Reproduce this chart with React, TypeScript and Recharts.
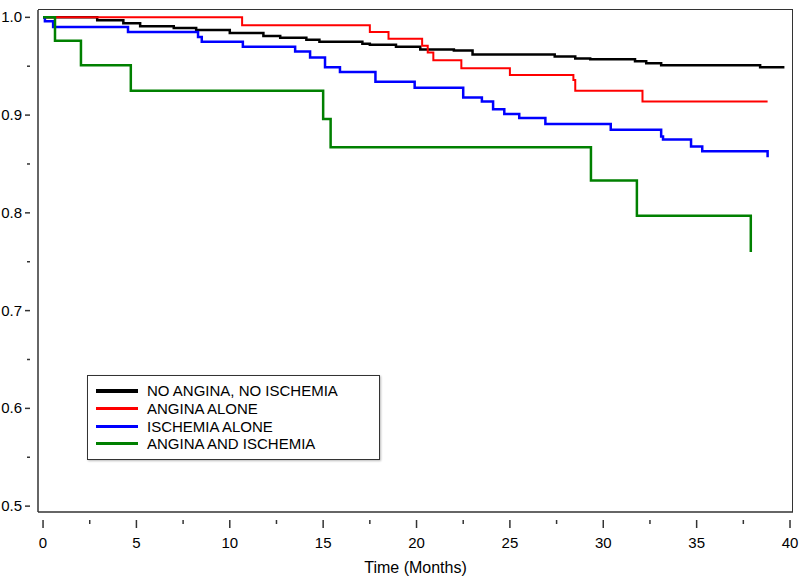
import React from 'react';
import { LineChart, Line, XAxis, YAxis } from 'recharts';

// Kaplan-Meier style step curves (time in months, survival proportion)
const noIschemiaTime = [0, 2.9, 4.3, 5.2, 7.0, 8.2, 10.0, 11.8, 12.7, 14.1, 14.8, 17.1, 17.5, 18.9, 20.2, 22.0, 23.0, 27.4, 28.5, 29.3, 31.7, 32.3, 33.1, 38.4, 39.7];
const noIschemiaSurv = [1.0, 0.997, 0.994, 0.991, 0.989, 0.987, 0.984, 0.981, 0.979, 0.977, 0.975, 0.973, 0.972, 0.970, 0.967, 0.966, 0.962, 0.960, 0.958, 0.957, 0.955, 0.953, 0.951, 0.949, 0.949];

const anginaTime = [0, 10.66, 17.5, 18.5, 20.3, 20.6, 20.9, 22.4, 25.0, 28.4, 28.5, 32.1, 38.8];
const anginaSurv = [1.0, 0.992, 0.985, 0.978, 0.971, 0.964, 0.956, 0.948, 0.941, 0.936, 0.925, 0.914, 0.914];

const ischemiaTime = [0, 0.1, 0.54, 4.55, 8.3, 8.5, 10.7, 13.5, 14.3, 15.1, 15.9, 17.8, 19.9, 22.5, 23.5, 24.1, 24.7, 25.5, 26.9, 30.4, 33.1, 33.2, 34.7, 35.3, 38.8, 38.8];
const ischemiaSurv = [1.0, 0.996, 0.990, 0.985, 0.980, 0.975, 0.970, 0.965, 0.959, 0.949, 0.944, 0.934, 0.928, 0.918, 0.914, 0.906, 0.901, 0.897, 0.891, 0.885, 0.878, 0.875, 0.868, 0.863, 0.863, 0.857];

const bothTime = [0, 0.64, 2.03, 4.7, 15.0, 15.4, 29.34, 31.8, 37.9, 37.9];
const bothSurv = [1.0, 0.976, 0.951, 0.925, 0.896, 0.867, 0.833, 0.797, 0.797, 0.760];

const xTicks = [0, 2.5, 5, 7.5, 10, 12.5, 15, 17.5, 20, 22.5, 25, 27.5, 30, 32.5, 35, 37.5, 40];
const yTicks = [0.5, 0.55, 0.6, 0.65, 0.7, 0.75, 0.8, 0.85, 0.9, 0.95, 1.0];

const seriesNames = ['NO ANGINA, NO ISCHEMIA', 'ANGINA ALONE', 'ISCHEMIA ALONE', 'ANGINA AND ISCHEMIA'];
const seriesColors = ['#000000', '#ff0000', '#0000ff', '#008000'];

const toPoints = (t: number[], s: number[]) => t.map((time, i) => ({ time, surv: s[i] }));

const series = [
  toPoints(noIschemiaTime, noIschemiaSurv),
  toPoints(anginaTime, anginaSurv),
  toPoints(ischemiaTime, ischemiaSurv),
  toPoints(bothTime, bothSurv),
];
const strokeWidths = [2.5, 2, 2.5, 2.5];

const FONT = '"Liberation Sans", Arial, sans-serif';
const AXIS = '#333333';

const XTick = (props: any) => {
  const { x, y, payload } = props;
  const major = payload.value % 5 === 0;
  return (
    <g>
      <line x1={x} y1={y} x2={x} y2={y + (major ? 8 : 4)} stroke={AXIS} strokeWidth={1.5} />
      {major && (
        <text x={x} y={y + 28} textAnchor="middle" fontSize={15} fontFamily={FONT} fill="#000">
          {payload.value}
        </text>
      )}
    </g>
  );
};

const YTick = (props: any) => {
  const { x, y, payload } = props;
  const major = Math.abs(payload.value * 10 - Math.round(payload.value * 10)) < 1e-6;
  return (
    <g>
      <line x1={x} y1={y} x2={x - (major ? 5 : 3)} y2={y} stroke={AXIS} strokeWidth={1.5} />
      {major && (
        <text x={x - 8} y={y + 5} textAnchor="end" fontSize={15} fontFamily={FONT} fill="#000">
          {payload.value.toFixed(1)}
        </text>
      )}
    </g>
  );
};

const LegendBox = () => (
  <div
    style={{
      position: 'absolute',
      left: 87,
      top: 375,
      width: 275,
      padding: '6px 8px',
      border: '1.5px solid #333',
      boxShadow: '1px 1px 2px #bbb',
      fontFamily: FONT,
      fontSize: 15,
      background: '#fff',
    }}
  >
    {seriesNames.map((name, i) => (
      <div key={name} style={{ display: 'flex', alignItems: 'center', height: 17.7 }}>
        <div style={{ width: 42, height: i === 0 ? 4 : 3, background: seriesColors[i], marginRight: 9 }} />
        <span>{name}</span>
      </div>
    ))}
  </div>
);

export default function App() {
  return (
    <div style={{ position: 'absolute', left: 0, top: 0, width: 800, height: 579, background: '#fff' }}>
      <LineChart width={800} height={579} margin={{ top: 10, right: 7, bottom: 0, left: 0 }}>
        <XAxis
          dataKey="time"
          type="number"
          domain={[-0.27, 40.16]}
          ticks={xTicks}
          tick={<XTick />}
          tickLine={false}
          axisLine={{ stroke: AXIS, strokeWidth: 1.5 }}
          height={67}
          allowDuplicatedCategory={false}
          label={{ value: 'Time (Months)', position: 'insideBottom', offset: 6, style: { fontSize: 16, fontFamily: FONT, fill: '#000' } }}
        />
        <YAxis
          type="number"
          domain={[0.494, 1.0075]}
          ticks={yTicks}
          tick={<YTick />}
          tickLine={false}
          axisLine={{ stroke: AXIS, strokeWidth: 1.5 }}
          width={38}
          allowDataOverflow
        />
        {series.map((pts, i) => (
          <Line
            key={seriesNames[i]}
            data={pts}
            dataKey="surv"
            name={seriesNames[i]}
            type="stepAfter"
            stroke={seriesColors[i]}
            strokeWidth={strokeWidths[i]}
            dot={false}
            activeDot={false}
            isAnimationActive={false}
          />
        ))}
      </LineChart>
      {/* top and right edges of the plot frame */}
      <div
        style={{
          position: 'absolute',
          left: 38,
          top: 9,
          width: 755,
          height: 503,
          borderTop: `1.5px solid ${AXIS}`,
          borderRight: `1.5px solid ${AXIS}`,
          boxSizing: 'border-box',
          pointerEvents: 'none',
        }}
      />
      <LegendBox />
    </div>
  );
}
